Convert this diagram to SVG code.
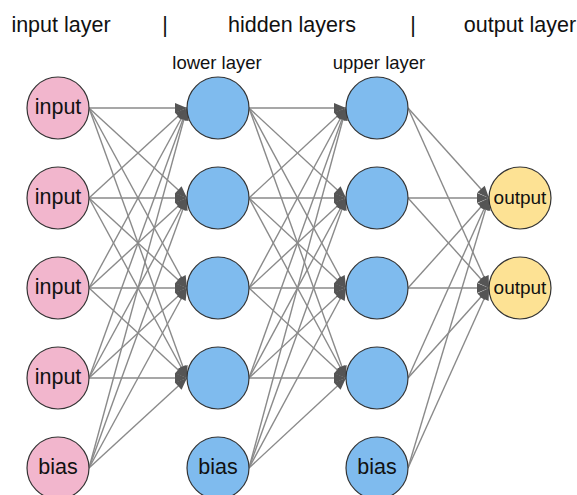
<svg xmlns="http://www.w3.org/2000/svg" width="577" height="495" viewBox="0 0 577 495">
<style>
.e{stroke:#8a8a8a;stroke-width:1.4;fill:none;marker-end:url(#ah)}
.n{stroke:#333;stroke-width:1.2}
.in{fill:#f2b6cd}
.hd{fill:#7fbbee}
.out{fill:#fde294}
text{font-family:"Liberation Sans",Arial,sans-serif;fill:#111;text-anchor:middle}
.t{font-size:21.5px}
.s{font-size:18.5px}
.lb{font-size:21.5px}
.lo{font-size:19px}
</style>
<defs>
<marker id="ah" markerUnits="userSpaceOnUse" markerWidth="13" markerHeight="11" refX="12" refY="5" orient="auto" overflow="visible">
<path d="M0,0 L12,5 L0,10 z" fill="#555"/>
</marker>
</defs>
<rect width="577" height="495" fill="#fff"/>
<g id="titles">
<text class="t" x="61" y="32">input layer</text>
<text class="t" x="165" y="32">|</text>
<text class="t" x="292" y="32">hidden layers</text>
<text class="t" x="413" y="32">|</text>
<text class="t" x="520" y="32">output layer</text>
<text class="s" x="217" y="69">lower layer</text>
<text class="s" x="379" y="69">upper layer</text>
</g>
<g id="connectors">
<line class="e" x1="89" y1="108" x2="187" y2="108"/>
<line class="e" x1="89" y1="108" x2="187" y2="198"/>
<line class="e" x1="89" y1="108" x2="187" y2="288"/>
<line class="e" x1="89" y1="108" x2="187" y2="378"/>
<line class="e" x1="89" y1="198" x2="187" y2="108"/>
<line class="e" x1="89" y1="198" x2="187" y2="198"/>
<line class="e" x1="89" y1="198" x2="187" y2="288"/>
<line class="e" x1="89" y1="198" x2="187" y2="378"/>
<line class="e" x1="89" y1="288" x2="187" y2="108"/>
<line class="e" x1="89" y1="288" x2="187" y2="198"/>
<line class="e" x1="89" y1="288" x2="187" y2="288"/>
<line class="e" x1="89" y1="288" x2="187" y2="378"/>
<line class="e" x1="89" y1="378" x2="187" y2="108"/>
<line class="e" x1="89" y1="378" x2="187" y2="198"/>
<line class="e" x1="89" y1="378" x2="187" y2="288"/>
<line class="e" x1="89" y1="378" x2="187" y2="378"/>
<line class="e" x1="89" y1="468" x2="187" y2="108"/>
<line class="e" x1="89" y1="468" x2="187" y2="198"/>
<line class="e" x1="89" y1="468" x2="187" y2="288"/>
<line class="e" x1="89" y1="468" x2="187" y2="378"/>
<line class="e" x1="249" y1="108" x2="346" y2="108"/>
<line class="e" x1="249" y1="108" x2="346" y2="198"/>
<line class="e" x1="249" y1="108" x2="346" y2="288"/>
<line class="e" x1="249" y1="108" x2="346" y2="378"/>
<line class="e" x1="249" y1="198" x2="346" y2="108"/>
<line class="e" x1="249" y1="198" x2="346" y2="198"/>
<line class="e" x1="249" y1="198" x2="346" y2="288"/>
<line class="e" x1="249" y1="198" x2="346" y2="378"/>
<line class="e" x1="249" y1="288" x2="346" y2="108"/>
<line class="e" x1="249" y1="288" x2="346" y2="198"/>
<line class="e" x1="249" y1="288" x2="346" y2="288"/>
<line class="e" x1="249" y1="288" x2="346" y2="378"/>
<line class="e" x1="249" y1="378" x2="346" y2="108"/>
<line class="e" x1="249" y1="378" x2="346" y2="198"/>
<line class="e" x1="249" y1="378" x2="346" y2="288"/>
<line class="e" x1="249" y1="378" x2="346" y2="378"/>
<line class="e" x1="249" y1="468" x2="346" y2="108"/>
<line class="e" x1="249" y1="468" x2="346" y2="198"/>
<line class="e" x1="249" y1="468" x2="346" y2="288"/>
<line class="e" x1="249" y1="468" x2="346" y2="378"/>
<line class="e" x1="408" y1="108" x2="489" y2="198"/>
<line class="e" x1="408" y1="108" x2="489" y2="288"/>
<line class="e" x1="408" y1="198" x2="489" y2="198"/>
<line class="e" x1="408" y1="198" x2="489" y2="288"/>
<line class="e" x1="408" y1="288" x2="489" y2="198"/>
<line class="e" x1="408" y1="288" x2="489" y2="288"/>
<line class="e" x1="408" y1="378" x2="489" y2="198"/>
<line class="e" x1="408" y1="378" x2="489" y2="288"/>
<line class="e" x1="408" y1="468" x2="489" y2="198"/>
<line class="e" x1="408" y1="468" x2="489" y2="288"/>
</g>
<g id="in1"><circle class="n in" cx="58" cy="108" r="31"/><text class="lb" x="58" y="114">input</text></g>
<g id="in2"><circle class="n in" cx="58" cy="198" r="31"/><text class="lb" x="58" y="204">input</text></g>
<g id="in3"><circle class="n in" cx="58" cy="288" r="31"/><text class="lb" x="58" y="294">input</text></g>
<g id="in4"><circle class="n in" cx="58" cy="378" r="31"/><text class="lb" x="58" y="384">input</text></g>
<g id="inbias"><circle class="n in" cx="58" cy="468" r="31"/><text class="lb" x="58" y="474">bias</text></g>
<g id="lo1"><circle class="n hd" cx="218" cy="108" r="31"/></g>
<g id="lo2"><circle class="n hd" cx="218" cy="198" r="31"/></g>
<g id="lo3"><circle class="n hd" cx="218" cy="288" r="31"/></g>
<g id="lo4"><circle class="n hd" cx="218" cy="378" r="31"/></g>
<g id="lobias"><circle class="n hd" cx="218" cy="468" r="31"/><text class="lb" x="218" y="474">bias</text></g>
<g id="up1"><circle class="n hd" cx="377" cy="108" r="31"/></g>
<g id="up2"><circle class="n hd" cx="377" cy="198" r="31"/></g>
<g id="up3"><circle class="n hd" cx="377" cy="288" r="31"/></g>
<g id="up4"><circle class="n hd" cx="377" cy="378" r="31"/></g>
<g id="upbias"><circle class="n hd" cx="377" cy="468" r="31"/><text class="lb" x="377" y="474">bias</text></g>
<g id="out1"><circle class="n out" cx="520" cy="198" r="31"/><text class="lo" x="520" y="204">output</text></g>
<g id="out2"><circle class="n out" cx="520" cy="288" r="31"/><text class="lo" x="520" y="294">output</text></g>
</svg>
